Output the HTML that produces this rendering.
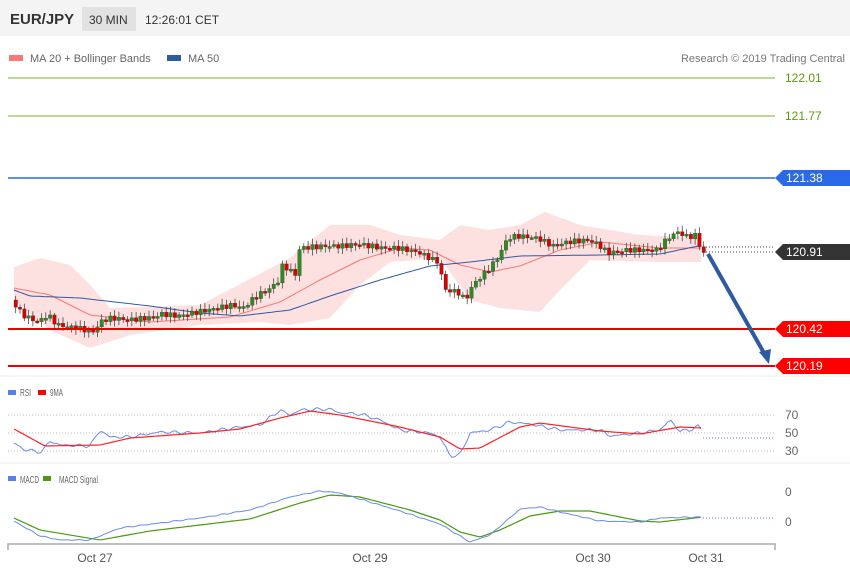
<!DOCTYPE html><html><head><meta charset="utf-8"><style>
body{margin:0;background:#fff;font-family:"Liberation Sans",sans-serif}
svg text{font-family:"Liberation Sans",sans-serif}
</style></head><body>
<svg id="s" width="850" height="576" xmlns="http://www.w3.org/2000/svg">
<rect x="0" y="0" width="850" height="576" fill="#fff"/>
<rect x="0" y="0" width="850" height="36" fill="#f4f4f4"/>
<text x="10" y="24" font-size="15" font-weight="bold" fill="#333">EUR/JPY</text>
<rect x="82" y="7" width="54" height="24" fill="#e2e2e2"/>
<text x="89" y="24" font-size="12" fill="#333">30 MIN</text>
<text x="145" y="24" font-size="12" fill="#333">12:26:01 CET</text>
<rect x="9" y="55" width="14" height="6" fill="#f87878"/>
<text x="30" y="62" font-size="11" fill="#666">MA 20 + Bollinger Bands</text>
<rect x="167" y="55" width="14" height="6" fill="#2e5aa0"/>
<text x="188" y="62" font-size="11" fill="#666">MA 50</text>
<text x="845" y="62" font-size="11" fill="#777" text-anchor="end">Research © 2019 Trading Central</text>
<g id="main"></g>
<line x1="8" y1="78" x2="775" y2="78" stroke="#7cb518" stroke-width="1"/>
<line x1="8" y1="116" x2="775" y2="116" stroke="#7cb518" stroke-width="1"/>
<text x="785" y="82" font-size="12" fill="#5a9a10">122.01</text>
<text x="785" y="120" font-size="12" fill="#5a9a10">121.77</text>
<line x1="8" y1="178" x2="775" y2="178" stroke="#2a6ad8" stroke-width="1.5"/>
<polygon points="775,178 783,170 850,170 850,186 783,186" fill="#2a6ae8"/>
<text x="786" y="182" font-size="12" fill="#fff">121.38</text>
<line x1="703" y1="247" x2="775" y2="247" stroke="#345" stroke-dasharray="1,2"/>
<line x1="703" y1="252" x2="775" y2="252" stroke="#345" stroke-dasharray="1,2"/>
<polygon points="775,252 783,244 850,244 850,260 783,260" fill="#333"/>
<text x="786" y="256" font-size="12" fill="#fff">120.91</text>
<line x1="8" y1="329" x2="775" y2="329" stroke="#e00" stroke-width="2"/>
<polygon points="775,329 783,321 850,321 850,337 783,337" fill="#f00"/>
<text x="786" y="333" font-size="12" fill="#fff">120.42</text>
<line x1="8" y1="366" x2="775" y2="366" stroke="#e00" stroke-width="2"/>
<polygon points="775,366 783,358 850,358 850,374 783,374" fill="#f00"/>
<text x="786" y="370" font-size="12" fill="#fff">120.19</text>
<line x1="708" y1="254" x2="764" y2="353" stroke="#2e5aa0" stroke-width="4"/>
<polygon points="769,364 759,352 771,349" fill="#2e5aa0"/>
<line x1="0" y1="376" x2="850" y2="376" stroke="#eee"/>
<rect x="8" y="390" width="8" height="5" fill="#5b7fe8"/>
<text x="20" y="396" font-size="10" fill="#666" textLength="11" lengthAdjust="spacingAndGlyphs">RSI</text>
<rect x="38" y="390" width="8" height="5" fill="#f00"/>
<text x="50" y="396" font-size="10" fill="#666" textLength="13" lengthAdjust="spacingAndGlyphs">9MA</text>
<line x1="8" y1="415" x2="775" y2="415" stroke="#bbb" stroke-dasharray="1,2"/>
<line x1="8" y1="433" x2="775" y2="433" stroke="#bbb" stroke-dasharray="1,2"/>
<line x1="8" y1="451" x2="775" y2="451" stroke="#bbb" stroke-dasharray="1,2"/>
<text x="785" y="419" font-size="12" fill="#666">70</text>
<text x="785" y="437" font-size="12" fill="#666">50</text>
<text x="785" y="455" font-size="12" fill="#666">30</text>
<line x1="703" y1="438" x2="775" y2="438" stroke="#5b7fe8" stroke-dasharray="1,2"/>
<line x1="0" y1="463" x2="850" y2="463" stroke="#eee"/>
<rect x="8" y="476" width="8" height="5" fill="#5b7fe8"/>
<text x="20" y="483" font-size="10" fill="#666" textLength="19" lengthAdjust="spacingAndGlyphs">MACD</text>
<rect x="43" y="476" width="8" height="5" fill="#4a9a10"/>
<text x="59" y="483" font-size="10" fill="#666" textLength="39" lengthAdjust="spacingAndGlyphs">MACD Signal</text>
<text x="785" y="496" font-size="12" fill="#666">0</text>
<text x="785" y="526" font-size="12" fill="#666">0</text>
<line x1="703" y1="518" x2="775" y2="518" stroke="#5b7fe8" stroke-dasharray="1,2"/>
<g id="ind"></g>
<polyline points="8,550 8,544 775,544 775,550" fill="none" stroke="#aaa" stroke-width="1.5"/>
<text x="95" y="562" font-size="12" fill="#555" text-anchor="middle">Oct 27</text>
<text x="370" y="562" font-size="12" fill="#555" text-anchor="middle">Oct 29</text>
<text x="593" y="562" font-size="12" fill="#555" text-anchor="middle">Oct 30</text>
<text x="706" y="562" font-size="12" fill="#555" text-anchor="middle">Oct 31</text>
</svg>
<script>
function P(a){return a.map(p=>p.join(',')).join(' ');}
function interp(k,x){for(let i=0;i<k.length-1;i++){if(x>=k[i][0]&&x<=k[i+1][0]){let t=(x-k[i][0])/(k[i+1][0]-k[i][0]);return k[i][1]+t*(k[i+1][1]-k[i][1]);}}return k[k.length-1][1];}
function dense(k,st,jit){let o=[];for(let x=k[0][0];x<=k[k.length-1][0];x+=st){o.push([x,+(interp(k,x)+(jit?Math.sin(x*1.7)*jit+Math.sin(x*0.53)*jit:0)).toFixed(1)]);}return o;}
const NS='http://www.w3.org/2000/svg';
function add(g,tag,at){let e=document.createElementNS(NS,tag);for(let a in at)e.setAttribute(a,at[a]);document.getElementById(g).appendChild(e);return e;}
const up=[[14,267],[40,258],[70,265],[90,285],[110,308],[200,305],[290,258],[330,225],[370,225],[400,235],[440,240],[460,225],[490,230],[520,225],[545,212],[580,225],[640,235],[703,238]];
const lo=[[14,300],[50,330],[90,348],[130,335],[200,325],[260,322],[290,325],[330,318],[360,285],[390,262],[440,258],[470,300],[500,308],[540,312],[560,290],[590,260],[660,262],[703,262]];
add('main','polygon',{points:P(dense(up,3,0))+' '+P(dense(lo,3,0).reverse()),fill:'#fde0e0'});
const ma20=[[14,288],[50,295],[90,315],[150,322],[230,317],[280,302],[320,280],[360,260],[400,248],[430,250],[460,265],[490,272],[520,266],[560,250],[600,242],[660,248],[703,248]];
const ma50=[[14,290],[30,296],[80,298],[150,306],[200,313],[240,316],[290,310],[330,296],[380,280],[430,266],[470,262],[520,256],[600,255],[660,254],[703,245]];
add('main','polyline',{points:P(dense(ma20,3,0)),fill:'none',stroke:'#f87878','stroke-width':1});
add('main','polyline',{points:P(dense(ma50,3,0)),fill:'none',stroke:'#2e5aa0','stroke-width':1});
const pr=[[14,300],[25,315],[40,322],[50,315],[60,325],[80,328],[95,332],[105,320],[115,318],[130,320],[150,318],[165,314],[180,316],[200,312],[220,308],[235,305],[245,308],[260,295],[270,290],[280,282],[285,265],[292,270],[298,275],[302,248],[315,247],[330,246],[345,246],[360,244],[385,248],[400,248],[420,252],[440,262],[448,290],[460,292],[468,300],[475,285],[490,270],[500,258],[510,238],[520,236],[540,238],[555,246],[570,242],[590,240],[600,244],[610,253],[630,250],[660,250],[670,238],[680,232],[690,237],[700,235],[703,253]];
let prev=interp(pr,14);
for(let x=14;x<=703;x+=4.3){let c=interp(pr,x+4)+Math.sin(x*2.3)*2.5;let o=prev;let hi=Math.min(o,c)-2-Math.abs(Math.sin(x*3.1))*4,lw=Math.max(o,c)+2+Math.abs(Math.cos(x*2.7))*4;let col=c<o?'#2e8b20':'#d00';
add('main','line',{x1:x+1.7,y1:hi,x2:x+1.7,y2:lw,stroke:'#333','stroke-width':0.7});
add('main','rect',{x:x,y:Math.min(o,c),width:3.5,height:Math.max(2,Math.abs(o-c)),fill:col,stroke:'#333','stroke-width':0.3});prev=c;}
const rsi=[[14,443],[25,450],[42,452],[50,441],[60,445],[90,446],[100,430],[110,437],[130,437],[160,432],[200,433],[240,427],[260,425],[280,410],[290,415],[300,410],[330,409],[340,413],[360,414],[380,420],[400,430],[430,433],[440,437],[450,456],[460,455],[470,433],[490,430],[510,422],[530,424],[560,430],[600,430],[610,436],[640,433],[660,430],[670,420],[680,431],[690,430],[700,425],[703,438]];
const r9=[[14,429],[45,446],[100,445],[130,438],[200,433],[240,429],[280,418],[310,411],[340,415],[400,427],[440,437],[460,449],[480,448],[520,427],[540,423],[600,431],[640,434],[680,427],[703,428]];
const sig=[[14,518],[40,530],[100,540],[150,531],[250,519],[300,503],[330,495],[360,497],[410,510],[440,520],[460,532],[480,537],[500,530],[530,516],[560,511],[590,511],[640,521],[660,522],[703,517]];
const mac=[[14,521],[40,536],[60,540],[90,540],[120,528],[200,518],[250,510],[290,497],[320,491],[340,493],[400,511],[440,524],[470,542],[490,535],[520,509],[540,507],[560,512],[600,521],[640,522],[660,518],[700,517],[703,518]];
add('ind','polyline',{points:P(dense(rsi,3,0.9)),fill:'none',stroke:'#6a8ce8','stroke-width':1});
add('ind','polyline',{points:P(dense(r9,3,0)),fill:'none',stroke:'#f22','stroke-width':1.2});
add('ind','polyline',{points:P(dense(sig,3,0)),fill:'none',stroke:'#4a9a10','stroke-width':1.2});
add('ind','polyline',{points:P(dense(mac,3,0.3)),fill:'none',stroke:'#6a8ce8','stroke-width':1});
</script>
</body></html>
